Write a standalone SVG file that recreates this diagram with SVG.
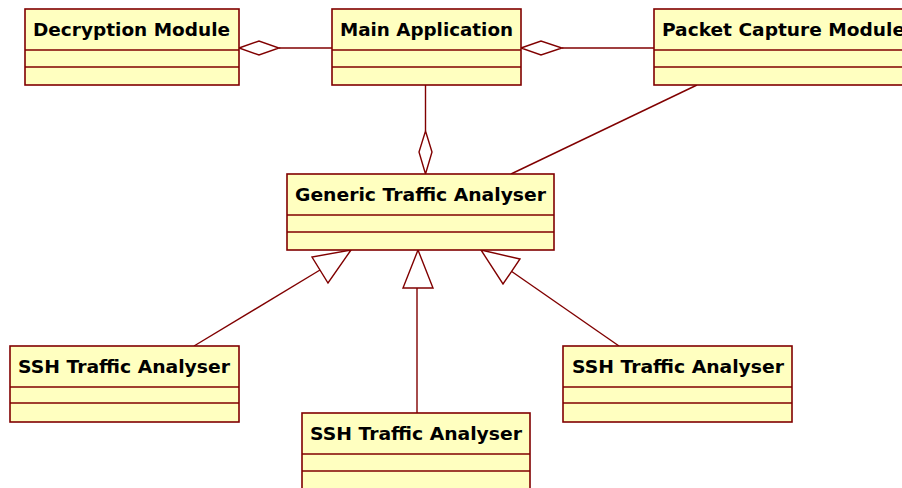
<svg xmlns="http://www.w3.org/2000/svg" width="902" height="488" viewBox="0 0 902 488">
  <style>
    .box { fill: #FFFFC0; stroke: #800000; stroke-width: 1.6; }
    .div { stroke: #800000; stroke-width: 1.4; fill: none; }
    .title { font-family: "DejaVu Sans", Verdana, sans-serif; font-weight: bold; font-size: 17.5px; fill: #000; }
    .conn { stroke: #800000; stroke-width: 1.4; fill: none; }
    .head { stroke: #800000; stroke-width: 1.4; fill: #fff; }
  </style>
  <rect width="902" height="488" fill="#fff"/>

  <g id="connectors">
    <!-- aggregation: Main Application owns Decryption Module -->
    <line class="conn" x1="279" y1="48" x2="332" y2="48"/>
    <polygon class="head" points="239,48 259,41 279,48 259,55"/>
    <!-- aggregation: Main Application owns Packet Capture Module -->
    <line class="conn" x1="562" y1="48" x2="654" y2="48"/>
    <polygon class="head" points="521,48 541,41 562,48 541,55"/>
    <!-- aggregation: Main Application owns Generic Traffic Analyser -->
    <line class="conn" x1="425.5" y1="85" x2="425.5" y2="131"/>
    <polygon class="head" points="425.5,131 432,152 425.5,174 419,152"/>
    <!-- association: Packet Capture Module to Generic Traffic Analyser -->
    <line class="conn" x1="697" y1="85" x2="511" y2="174"/>
    <!-- generalisations -->
    <line class="conn" x1="194" y1="346" x2="320" y2="270"/>
    <polygon class="head" points="351,250 328,283 312,257"/>
    <line class="conn" x1="417" y1="413" x2="417" y2="288"/>
    <polygon class="head" points="418,250 433,288 403,288"/>
    <line class="conn" x1="619" y1="346" x2="511" y2="271"/>
    <polygon class="head" points="481,250 520,259 503,284"/>
  </g>

  <g id="decryption-module">
    <rect class="box" x="25" y="9" width="214" height="76"/>
    <line class="div" x1="25" y1="50" x2="239" y2="50"/>
    <line class="div" x1="25" y1="67" x2="239" y2="67"/>
    <text class="title" x="33" y="36" textLength="197" lengthAdjust="spacingAndGlyphs">Decryption Module</text>
  </g>

  <g id="main-application">
    <rect class="box" x="332" y="9" width="189" height="76"/>
    <line class="div" x1="332" y1="50" x2="521" y2="50"/>
    <line class="div" x1="332" y1="67" x2="521" y2="67"/>
    <text class="title" x="340" y="36" textLength="173" lengthAdjust="spacingAndGlyphs">Main Application</text>
  </g>

  <g id="packet-capture-module">
    <rect class="box" x="654" y="9" width="260" height="76"/>
    <line class="div" x1="654" y1="50" x2="914" y2="50"/>
    <line class="div" x1="654" y1="67" x2="914" y2="67"/>
    <text class="title" x="662" y="36" textLength="243" lengthAdjust="spacingAndGlyphs">Packet Capture Module</text>
  </g>

  <g id="generic-traffic-analyser">
    <rect class="box" x="287" y="174" width="267" height="76"/>
    <line class="div" x1="287" y1="215" x2="554" y2="215"/>
    <line class="div" x1="287" y1="232" x2="554" y2="232"/>
    <text class="title" x="295" y="201" textLength="251" lengthAdjust="spacingAndGlyphs">Generic Traffic Analyser</text>
  </g>

  <g id="ssh-traffic-analyser-left">
    <rect class="box" x="10" y="346" width="229" height="76"/>
    <line class="div" x1="10" y1="387" x2="239" y2="387"/>
    <line class="div" x1="10" y1="403" x2="239" y2="403"/>
    <text class="title" x="18" y="373" textLength="212" lengthAdjust="spacingAndGlyphs">SSH Traffic Analyser</text>
  </g>

  <g id="ssh-traffic-analyser-middle">
    <rect class="box" x="302" y="413" width="228" height="76"/>
    <line class="div" x1="302" y1="454" x2="530" y2="454"/>
    <line class="div" x1="302" y1="471" x2="530" y2="471"/>
    <text class="title" x="310" y="440" textLength="212" lengthAdjust="spacingAndGlyphs">SSH Traffic Analyser</text>
  </g>

  <g id="ssh-traffic-analyser-right">
    <rect class="box" x="563" y="346" width="229" height="76"/>
    <line class="div" x1="563" y1="387" x2="792" y2="387"/>
    <line class="div" x1="563" y1="403" x2="792" y2="403"/>
    <text class="title" x="572" y="373" textLength="212" lengthAdjust="spacingAndGlyphs">SSH Traffic Analyser</text>
  </g>
</svg>
